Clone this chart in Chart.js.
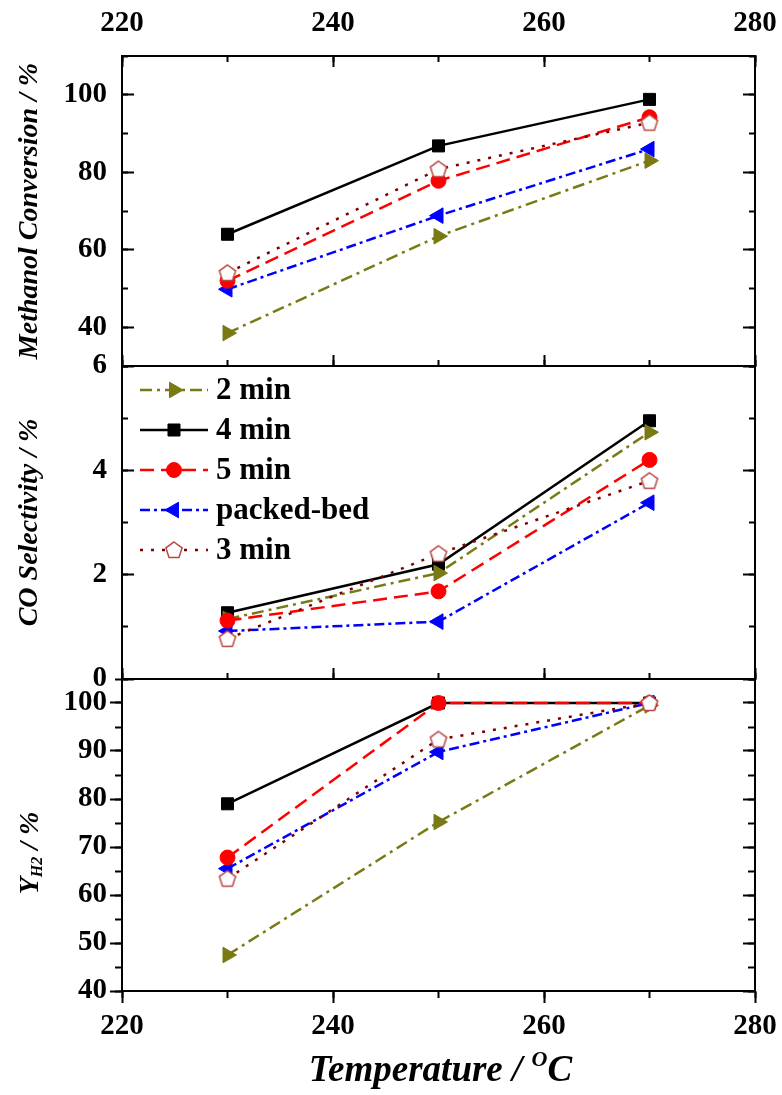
<!DOCTYPE html>
<html>
<head>
<meta charset="utf-8">
<script src="https://cdn.jsdelivr.net/npm/chart.js@4.4.1/dist/chart.umd.min.js"></script>
<style>
  body { margin: 0; background: #fff; }
  #wrap { position: relative; width: 782px; height: 1095px; overflow: hidden; }
  canvas { position: absolute; left: 0; }
</style>
</head>
<body>
<div id="wrap">
  <canvas id="conv" width="782" height="380" style="top:0px"></canvas>
  <canvas id="sel" width="782" height="360" style="top:340px"></canvas>
  <canvas id="yield" width="782" height="435" style="top:660px"></canvas>
</div>
<script>
// temperatures (x) and series names, in legend order
const temps = [230, 250, 270];
const seriesNames = ["2 min", "4 min", "5 min", "packed-bed", "3 min"];

// methanol conversion / %
const conv2 = [38.5, 63.5, 83];
const conv4 = [64, 86.8, 98.8];
const conv5 = [52, 77.8, 94.2];
const convPacked = [49.8, 68.8, 86];
const conv3 = [54, 80.8, 92.8];

// CO selectivity / %
const sel2 = [1.15, 2.03, 4.73];
const sel4 = [1.27, 2.2, 4.95];
const sel5 = [1.12, 1.68, 4.2];
const selPacked = [0.92, 1.1, 3.38];
const sel3 = [0.77, 2.4, 3.8];

// H2 yield / %
const yield2 = [47.5, 75.2, 99.5];
const yield4 = [79, 100, 100];
const yield5 = [67.8, 100, 100];
const yieldPacked = [65.5, 89.8, 100];
const yield3 = [63.4, 92.4, 100];

// tick labels
const tempLabels = [220, 240, 260, 280];
const convLabels = [40, 60, 80, 100];
const selLabels = [0, 2, 4, 6];
const yieldLabels = [40, 50, 60, 70, 80, 90, 100];

const serif = '"Liberation Serif", "Times New Roman", serif';
const tickFont = { family: serif, size: 29, weight: 'bold' };

// open pentagon marker for the 3 min series
function pentagon() {
    const c = document.createElement('canvas');
    c.width = 24; c.height = 24;
    const g = c.getContext('2d');
    g.beginPath();
    for (let i = 0; i < 5; i++) {
        const a = -Math.PI / 2 + i * 2 * Math.PI / 5;
        const px = 12 + Math.cos(a) * 8.5, py = 12.5 + Math.sin(a) * 8.5;
        if (i === 0) g.moveTo(px, py); else g.lineTo(px, py);
    }
    g.closePath();
    g.fillStyle = '#fff';
    g.fill();
    g.strokeStyle = '#b84444';
    g.lineWidth = 1.5;
    g.stroke();
    return c;
}
const pentMark = pentagon();

const looks = {
    "2 min":      { color: '#7a7a14', dash: [12, 5, 3, 5], point: 'triangle', rot: 90, r: 9, order: 3 },
    "4 min":      { color: '#000000', dash: [], point: 'rect', rot: 0, r: 8.5, order: 4 },
    "5 min":      { color: '#ff0000', dash: [14, 7], point: 'circle', rot: 0, r: 7.5, order: 1 },
    "packed-bed": { color: '#0000ff', dash: [10, 4, 3, 4], point: 'triangle', rot: -90, r: 9, order: 2 },
    "3 min":      { color: '#800000', dash: [3, 8], point: pentMark, rot: 0, r: 9, order: 0 }
};

function makeDatasets(list) {
    return seriesNames.map((name, k) => {
        const s = looks[name];
        return {
            label: name,
            data: temps.map((t, i) => ({ x: t, y: list[k][i] })),
            borderColor: s.color,
            backgroundColor: s.color,
            borderWidth: 2.5,
            borderDash: s.dash,
            pointStyle: s.point,
            pointRotation: s.rot,
            pointRadius: s.r,
            pointBackgroundColor: s.color,
            pointBorderColor: s.color,
            pointBorderWidth: 1,
            order: s.order,
            tension: 0,
            fill: false
        };
    });
}

// frame axis: border, major ticks at tickList, optional labels
function axis(pos, min, max, tickList, tl, opts) {
    const a = {
        type: 'linear', position: pos, min: min, max: max,
        afterBuildTicks: s => { s.ticks = tickList.map(v => ({ value: v })); },
        afterFit: s => {
            if (pos === 'left' || pos === 'right') s.width = opts.size; else s.height = opts.size;
            s.paddingLeft = 0; s.paddingRight = 0; s.paddingTop = 0; s.paddingBottom = 0;
        },
        ticks: { display: !!opts.labels, font: tickFont, color: '#000', padding: opts.pad || 0 },
        grid: { drawOnChartArea: false, drawTicks: tl !== 0, tickLength: tl, tickWidth: 2, tickColor: '#000' },
        border: { display: true, color: '#000', width: 2 }
    };
    if (opts.title) a.title = opts.title;
    return a;
}

// short ticks only, sitting on a panel edge
function minor(ax, where, min, max, step, tl) {
    return {
        type: 'linear', axis: ax, position: where, min: min, max: max,
        afterFit: s => {
            s.width = 0; s.height = 0;
            s.paddingLeft = 0; s.paddingRight = 0; s.paddingTop = 0; s.paddingBottom = 0;
        },
        ticks: { stepSize: step, display: false },
        grid: { drawOnChartArea: false, drawTicks: true, tickLength: tl, tickWidth: 2, tickColor: '#000' },
        border: { display: false }
    };
}

const yTitleFont = { family: serif, size: 28, weight: 'bold', style: 'italic' };

const common = {
    responsive: false,
    animation: false,
    events: [],
    plugins: { legend: { display: false }, tooltip: { enabled: false } }
};

// ---- top panel
new Chart(document.getElementById('conv'), {
    type: 'line',
    data: { datasets: makeDatasets([conv2, conv4, conv5, convPacked, conv3]) },
    options: {
        ...common,
        layout: { padding: { left: 0, right: 27, top: 0, bottom: 14 } },
        scales: {
            x: axis('bottom', 220, 280, tempLabels, -11, { size: 0 }),
            xTop: axis('top', 220, 280, tempLabels, -11, { size: 56, labels: true, pad: 26 }),
            y: axis('left', 30, 110, convLabels, -12, {
                size: 122, labels: true, pad: 27,
                title: { display: true, text: 'Methanol Conversion / %', font: yTitleFont, color: '#000', padding: { top: 13, bottom: 0 } }
            }),
            yR: axis('right', 30, 110, convLabels, -12, { size: 0 }),
            xm1: minor('x', { y: 110 }, 220, 280, 10, 6),
            xm2: minor('x', { y: 30 }, 220, 280, 10, -6),
            ym1: minor('y', { x: 220 }, 30, 110, 10, -6),
            ym2: minor('y', { x: 280 }, 30, 110, 10, 6)
        }
    }
});

// ---- middle panel, with the legend
const keyPlugin = {
    id: 'key',
    afterDraw(chart) {
        const ctx = chart.ctx;
        chart.data.datasets.forEach((ds, i) => {
            const y = 50 + i * 40;
            ctx.save();
            ctx.strokeStyle = ds.borderColor;
            ctx.lineWidth = ds.borderWidth;
            ctx.setLineDash(ds.borderDash);
            ctx.beginPath();
            ctx.moveTo(140, y);
            ctx.lineTo(208, y);
            ctx.stroke();
            ctx.setLineDash([]);
            ctx.fillStyle = ds.pointBackgroundColor;
            ctx.strokeStyle = ds.pointBorderColor;
            ctx.lineWidth = 1;
            Chart.helpers.drawPoint(ctx, {
                pointStyle: ds.pointStyle, rotation: ds.pointRotation,
                radius: ds.pointRadius, borderWidth: 1
            }, 174, y);
            ctx.fillStyle = '#000';
            ctx.font = 'bold 31px ' + serif;
            ctx.textBaseline = 'middle';
            ctx.textAlign = 'left';
            ctx.fillText(ds.label, 216, y + 1);
            ctx.restore();
        });
    }
};

new Chart(document.getElementById('sel'), {
    type: 'line',
    data: { datasets: makeDatasets([sel2, sel4, sel5, selPacked, sel3]) },
    options: {
        ...common,
        layout: { padding: { left: 0, right: 27, top: 0, bottom: 21 } },
        scales: {
            x: axis('bottom', 220, 280, tempLabels, -11, { size: 0 }),
            xTop: axis('top', 220, 280, tempLabels, 0, { size: 26 }),
            y: axis('left', 0, 6, selLabels, -12, {
                size: 122, labels: true, pad: 27,
                title: { display: true, text: 'CO Selectivity / %', font: yTitleFont, color: '#000', padding: { top: 13, bottom: 0 } }
            }),
            yR: axis('right', 0, 6, selLabels, -12, { size: 0 }),
            xm2: minor('x', { y: 0 }, 220, 280, 10, -6),
            ym1: minor('y', { x: 220 }, 0, 6, 1, -6),
            ym2: minor('y', { x: 280 }, 0, 6, 1, 6)
        }
    },
    plugins: [keyPlugin]
});

// ---- bottom panel, with its own axis titles (sub/superscripts)
function drawPieces(ctx, pieces, cx, cy) {
    let total = 0;
    pieces.forEach(p => { ctx.font = p[1]; total += ctx.measureText(p[0]).width; });
    let x = cx - total / 2;
    pieces.forEach(p => {
        ctx.font = p[1];
        ctx.fillText(p[0], x, cy + p[2]);
        x += ctx.measureText(p[0]).width;
    });
}

const titlePlugin = {
    id: 'titles',
    afterDraw(chart) {
        const ctx = chart.ctx;
        const area = chart.chartArea;
        ctx.save();
        ctx.fillStyle = '#000';
        ctx.textAlign = 'left';
        ctx.textBaseline = 'middle';
        ctx.translate(31, (area.top + area.bottom) / 2 + 18);
        ctx.rotate(-Math.PI / 2);
        drawPieces(ctx, [
            ['Y', 'italic bold 28px ' + serif, 0],
            ['H2', 'italic bold 16px ' + serif, 7],
            [' / %', 'italic bold 28px ' + serif, 0]
        ], 0, 0);
        ctx.restore();

        ctx.save();
        ctx.fillStyle = '#000';
        ctx.textAlign = 'left';
        ctx.textBaseline = 'alphabetic';
        drawPieces(ctx, [
            ['Temperature / ', 'italic bold 37px ' + serif, 0],
            ['O', 'italic bold 22px ' + serif, -15],
            ['C', 'italic bold 37px ' + serif, 0]
        ], (area.left + area.right) / 2 + 2, 421);
        ctx.restore();
    }
};

new Chart(document.getElementById('yield'), {
    type: 'line',
    data: { datasets: makeDatasets([yield2, yield4, yield5, yieldPacked, yield3]) },
    options: {
        ...common,
        layout: { padding: { left: 0, right: 27, top: 0, bottom: 0 } },
        scales: {
            x: axis('bottom', 220, 280, tempLabels, 12, { size: 104, labels: true, pad: 6 }),
            xTop: axis('top', 220, 280, tempLabels, 0, { size: 19 }),
            y: axis('left', 40, 105, yieldLabels, 12, { size: 122, labels: true, pad: 3 }),
            yR: axis('right', 40, 105, yieldLabels, -12, { size: 0 }),
            xm2: minor('x', { y: 40 }, 220, 280, 10, 7),
            ym1: minor('y', { x: 220 }, 40, 105, 5, 7),
            ym2: minor('y', { x: 280 }, 40, 105, 5, 7)
        }
    },
    plugins: [titlePlugin]
});
</script>
</body>
</html>
